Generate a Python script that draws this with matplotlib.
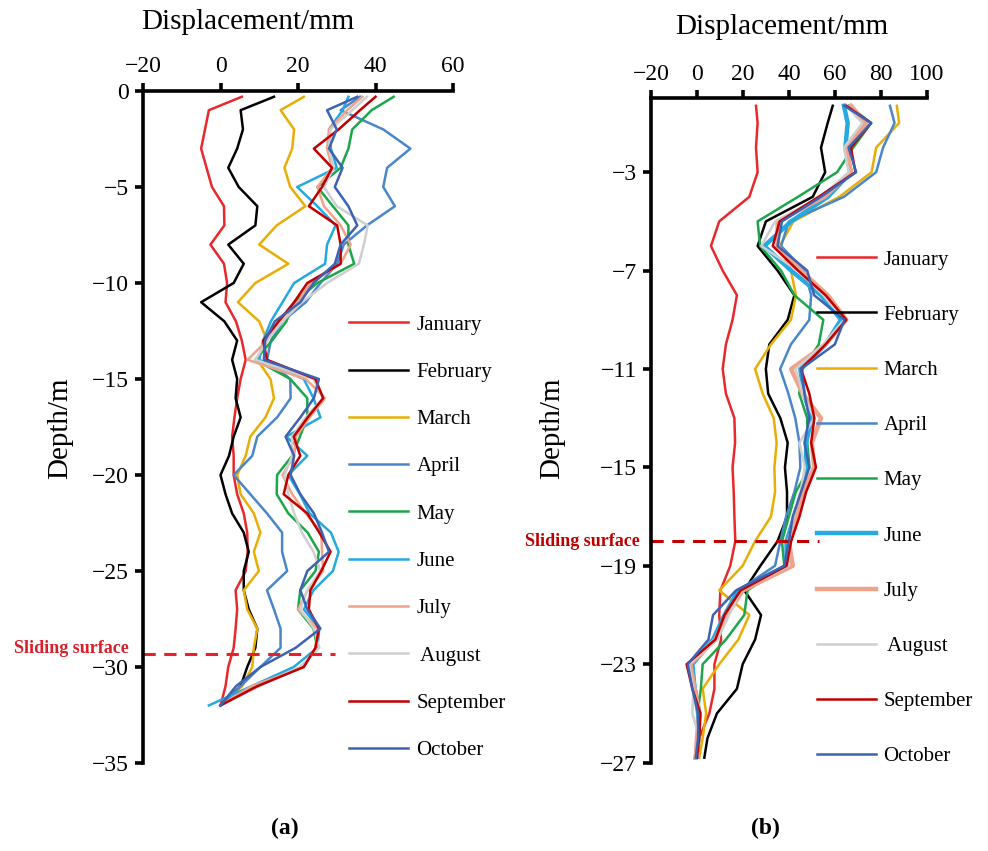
import matplotlib
matplotlib.use('Agg')
import matplotlib.pyplot as plt

plt.rcParams['font.family'] = ['Liberation Serif', 'DejaVu Serif']
plt.rcParams['axes.unicode_minus'] = True

months = ['January', 'February', 'March', 'April', 'May', 'June',
          'July', ' August', 'September', 'October']
colors = ['#E8282B', '#000000', '#E8AE05', '#4A86C8', '#1DA54C',
          '#25A9E0', '#EFA38A', '#CFCFCF', '#C00000', '#3C63B3']

# ---- borehole (a): depth in m, displacement in mm ----
depth_a = [-0.3, -1, -2, -3, -4, -5, -6, -7, -8, -9, -10, -11, -12, -13, -14, -15, -16,
           -17, -18, -19, -20, -21, -22, -23, -24, -25, -26, -27, -28, -29, -30, -31, -32]
jan_a = [5.5, -3.0, -4.0, -5.0, -3.6, -2.2, 0.9, 1.0, -2.6, 0.9, 1.7, 1.3, 4.0, 5.5, 6.5, 5.2, 4.3,
         3.6, 3.0, 3.4, 3.4, 4.3, 6.0, 6.9, 7.0, 6.5, 3.9, 4.3, 3.9, 3.4, 2.0, 1.3, 0.0]
feb_a = [13.8, 5.2, 5.8, 4.3, 2.0, 4.7, 9.5, 9.0, 2.0, 6.0, 3.4, -5.0, 1.0, 4.3, 3.0, 4.3, 3.9,
         5.2, 3.4, 2.2, 0.0, 1.3, 3.0, 6.0, 7.3, 6.0, 6.0, 7.3, 9.5, 9.0, 6.9, 5.2, 0.0]
mar_a = [21.5, 15.5, 19.0, 18.5, 16.5, 18.0, 21.9, 14.5, 10.0, 17.5, 9.0, 4.5, 10.0, 12.0, 9.5, 12.9, 13.8,
         11.6, 7.7, 6.5, 4.3, 5.2, 8.6, 10.3, 8.6, 9.9, 6.0, 6.9, 9.5, 8.6, 8.2, 5.6, 0.0]
apr_a = [36.0, 31.0, 42.0, 49.0, 43.0, 42.0, 45.0, 37.8, 31.8, 30.1, 25.8, 22.0, 16.0, 13.0, 12.0, 18.0, 18.1,
         14.6, 9.5, 8.2, 3.4, 7.7, 12.0, 15.9, 15.9, 17.2, 12.0, 13.8, 15.5, 15.5, 10.3, 5.2, 0.0]
may_a = [44.7, 39.0, 34.0, 33.0, 31.0, 25.0, 29.0, 33.0, 33.0, 34.5, 25.0, 19.0, 17.0, 13.3, 9.0, 18.0, 22.4,
         22.4, 20.5, 18.5, 14.6, 14.5, 17.5, 22.5, 25.4, 24.5, 20.6, 20.0, 24.0, 25.0, 21.0, 9.0, 0.0]
jun_a = [33.0, 31.5, 28.0, 28.5, 30.0, 19.8, 25.0, 29.7, 27.5, 27.0, 19.0, 16.0, 13.0, 11.0, 10.0, 21.5, 24.0,
         25.8, 17.0, 22.4, 17.5, 20.5, 23.0, 28.5, 30.5, 29.0, 24.0, 21.5, 25.5, 25.0, 18.9, 8.0, -3.0]
jul_a = [36.6, 32.7, 28.0, 27.5, 28.8, 25.0, 26.7, 31.0, 33.6, 31.0, 23.2, 20.0, 15.0, 12.0, 7.0, 22.0, 27.0,
         23.0, 19.5, 19.0, 16.0, 18.5, 22.0, 26.0, 26.2, 26.5, 22.5, 20.0, 25.0, 24.5, 21.5, 8.0, 0.0]
aug_a = [37.8, 34.0, 28.4, 28.0, 29.2, 26.7, 30.0, 38.0, 37.0, 35.7, 27.5, 21.0, 16.0, 12.0, 9.0, 24.0, 26.5,
         22.0, 18.5, 18.5, 16.5, 17.5, 19.0, 21.0, 24.0, 25.8, 22.4, 20.6, 24.1, 25.5, 20.5, 10.0, 0.0]
sep_a = [40.0, 36.0, 30.5, 24.1, 28.8, 26.2, 22.8, 30.1, 31.0, 31.0, 22.4, 19.0, 15.0, 11.0, 12.0, 24.5, 26.5,
         22.5, 18.9, 20.6, 17.5, 16.3, 22.4, 25.5, 28.4, 26.0, 23.2, 22.8, 25.4, 24.5, 21.5, 9.5, 0.0]
oct_a = [35.3, 27.5, 30.0, 28.0, 31.5, 29.5, 33.0, 35.3, 31.0, 29.5, 24.0, 20.6, 14.0, 11.5, 11.2, 25.4, 24.1,
         20.6, 16.8, 19.0, 18.1, 20.6, 24.1, 26.2, 28.0, 22.4, 20.6, 22.4, 25.8, 19.4, 10.3, 4.0, 0.0]
slide_a = -29.3

# ---- borehole (b) ----
nan = float('nan')
depth_b = [-0.3, -1, -2, -3, -4, -5, -6, -7, -8, -9, -10, -11, -12, -13, -14,
           -15, -16, -17, -18, -19, -20, -21, -22, -23, -24, -25, -26, -26.8]
jan_b = [25.7, 26.4, 25.7, 26.4, 22.8, 9.7, 6.1, 11.2, 17.4, 15.5, 12.6, 11.2, 12.6, 16.3, 16.6,
         15.5, 16.0, 16.3, 16.7, 14.5, 10.2, 9.7, 10.5, 7.6, 7.6, 5.4, 1.0, 0.3]
feb_b = [59.1, 56.9, 54.0, 55.8, 50.4, 30.0, 26.4, 35.1, 42.4, 39.5, 31.5, 30.0, 31.0, 36.3, 39.5,
         38.3, 39.2, 39.2, 35.1, 27.6, 20.6, 27.9, 25.3, 19.9, 17.4, 8.7, 4.6, 3.2]
mar_b = [87.0, 88.0, 78.0, 76.0, 62.0, 42.0, 36.0, 40.9, 43.1, 40.9, 32.2, 25.3, 28.6, 33.4, 34.7,
         33.7, 34.0, 32.2, 25.3, 19.9, 9.7, 22.8, 18.0, 9.7, 2.5, 4.0, 2.5, 1.0]
apr_b = [84.0, 86.0, 81.0, 78.0, 64.0, 40.0, 36.6, 46.8, 49.7, 48.9, 40.9, 36.2, 39.8, 42.8, 44.6,
         45.0, 42.4, 38.8, 36.3, 34.0, 18.0, 13.0, 8.0, -3.0, -0.5, 1.5, 1.0, 0.2]
may_b = [66.0, 75.8, 68.0, 61.0, 44.0, 26.4, 27.5, 36.6, 42.4, 55.0, 53.0, 46.0, 44.5, 48.0, 48.0,
         49.0, 43.0, 40.0, 37.0, 38.0, 22.0, 20.6, 12.6, 2.5, 1.7, 0.3, nan, nan]
jun_b = [64.0, 65.6, 64.6, 67.0, 57.0, 41.0, 29.3, 41.0, 54.0, 62.7, 56.0, 45.0, 46.5, 50.0, 47.5,
         47.5, 46.0, 42.4, 39.0, 39.0, 18.0, 12.0, 7.0, -2.0, -1.0, 0.5, 0.5, -0.5]
jul_b = [67.0, 73.6, 64.9, 67.0, 55.5, 35.1, 35.1, 45.3, 56.9, 65.0, 56.0, 41.0, 46.0, 54.0, 50.0,
         51.0, 46.0, 43.1, 40.0, 41.7, 20.0, 13.0, 8.0, -3.0, -1.0, 1.0, 0.0, -0.5]
aug_b = [65.0, 72.0, 64.0, 66.0, 54.0, 34.0, 28.0, 44.0, 55.0, 64.0, 55.0, 43.0, 46.0, 51.0, 44.6,
         47.0, 45.0, 42.0, 40.0, 40.0, 19.0, 14.0, 9.0, -3.5, -1.5, -2.0, 1.0, 0.0]
sep_b = [65.0, 75.8, 67.0, 69.0, 53.0, 36.0, 33.0, 44.0, 56.0, 65.0, 56.0, 45.3, 48.9, 51.1, 49.7,
         51.8, 47.5, 44.6, 41.0, 39.0, 19.0, 12.0, 8.0, -4.5, -2.0, 1.5, 1.0, 0.0]
oct_b = [64.2, 75.8, 66.0, 69.3, 54.0, 37.0, 35.1, 48.0, 51.0, 64.2, 60.0, 45.3, 46.8, 48.9, 46.8,
         48.9, 45.3, 41.7, 40.0, 38.0, 17.0, 7.0, 5.0, -4.0, -2.0, 0.5, 0.5, -0.5]
slide_b = -18.0

series_a = [jan_a, feb_a, mar_a, apr_a, may_a, jun_a, jul_a, aug_a, sep_a, oct_a]
series_b = [jan_b, feb_b, mar_b, apr_b, may_b, jun_b, jul_b, aug_b, sep_b, oct_b]
widths_b = [1.8, 1.8, 1.8, 1.8, 1.8, 3.2, 3.2, 1.8, 1.8, 1.8]

W, H = 988, 851
fig = plt.figure(figsize=(W / 100, H / 100), dpi=100)
ax1 = fig.add_axes([143 / W, 1 - 763 / H, 310 / W, 672 / H])
ax2 = fig.add_axes([651 / W, 1 - 762.6 / H, 275.7 / W, 664.2 / H])


def style(ax):
    ax.spines['right'].set_visible(False)
    ax.spines['bottom'].set_visible(False)
    for s in ('left', 'top'):
        ax.spines[s].set_linewidth(2.6)
        ax.spines[s].set_capstyle('projecting')
    ax.xaxis.tick_top()
    ax.tick_params(axis='both', direction='out', length=6, width=2.6,
                   labelsize=17, pad=4)


# panel (a)
for vals, lab, c in zip(series_a, months, colors):
    ax1.plot(vals, depth_a, color=c, lw=1.8, label=lab, solid_joinstyle='round')
ax1.plot([-20, 29.5], [slide_a, slide_a], color='#E8202A', lw=2.2, ls=(0, (4, 2.8)))
ax1.text(-23.8, slide_a + 0.25, 'Sliding surface', ha='right', va='center',
         color='#D8202A', fontsize=13, fontweight='bold')
ax1.set_xlim(-20, 60)
ax1.set_ylim(-35, 0)
ax1.set_xticks([-20, 0, 20, 40, 60])
ax1.set_yticks([0, -5, -10, -15, -20, -25, -30, -35])
style(ax1)
ax1.legend(loc='upper left', bbox_to_anchor=(349 / W, 1 - 315 / H),
           bbox_transform=fig.transFigure, frameon=False, fontsize=15,
           borderpad=0, borderaxespad=0, handlelength=2.84, handletextpad=0.4,
           labelspacing=1.33)

# panel (b)
for vals, lab, c, lw in zip(series_b, months, colors, widths_b):
    ax2.plot(vals, depth_b, color=c, lw=lw, label=lab, solid_joinstyle='round')
ax2.plot([-20, 53], [slide_b, slide_b], color='#C00000', lw=2.2, ls=(0, (4, 2.8)))
ax2.text(-24.8, slide_b, 'Sliding surface', ha='right', va='center',
         color='#C00000', fontsize=13, fontweight='bold')
ax2.set_xlim(-20, 100)
ax2.set_ylim(-27, 0)
ax2.set_xticks([-20, 0, 20, 40, 60, 80, 100])
ax2.set_yticks([-3, -7, -11, -15, -19, -23, -27])
style(ax2)
ax2.legend(loc='upper left', bbox_to_anchor=(817 / W, 1 - 250 / H),
           bbox_transform=fig.transFigure, frameon=False, fontsize=15,
           borderpad=0, borderaxespad=0, handlelength=2.84, handletextpad=0.35,
           labelspacing=1.71)

# axis titles and panel tags
fig.text(248 / W, 1 - 22 / H, 'Displacement/mm', ha='center', va='center', fontsize=21)
fig.text(782 / W, 1 - 27 / H, 'Displacement/mm', ha='center', va='center', fontsize=21)
fig.text(60 / W, 1 - 428 / H, 'Depth/m', ha='center', va='center', fontsize=21, rotation=90)
fig.text(552 / W, 1 - 428 / H, 'Depth/m', ha='center', va='center', fontsize=21, rotation=90)
fig.text(285 / W, 1 - 828 / H, '(a)', ha='center', va='center', fontsize=17, fontweight='bold')
fig.text(765 / W, 1 - 828 / H, '(b)', ha='center', va='center', fontsize=17, fontweight='bold')

fig.savefig('out.png', dpi=100)
